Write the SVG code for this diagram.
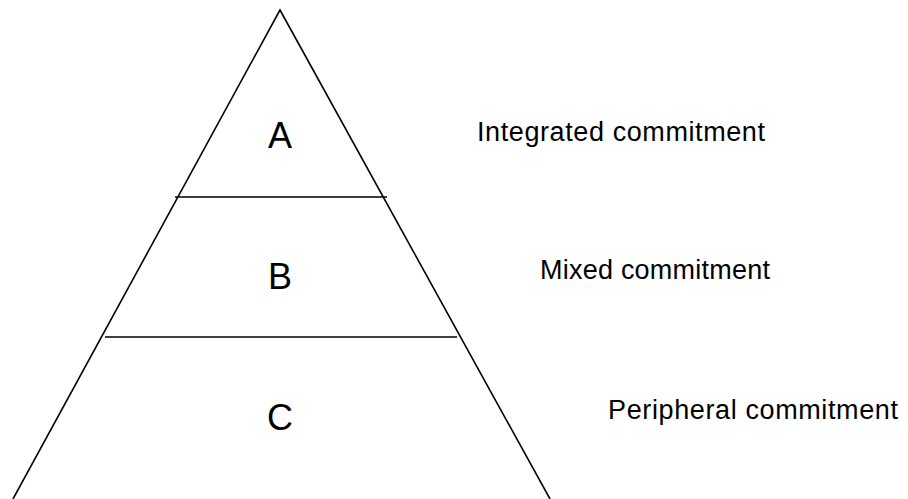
<svg xmlns="http://www.w3.org/2000/svg" width="908" height="499" viewBox="0 0 908 499">
<style>
.ln{stroke:#000;stroke-width:1.6;fill:none}
.big{font-family:"Liberation Sans",Arial,sans-serif;font-size:36px;fill:#000;text-anchor:middle}
.lbl{font-family:"Liberation Sans",Arial,sans-serif;font-size:27px;fill:#000}
</style>
<rect width="908" height="499" fill="#fff"/>
<g id="connectors">
<polyline class="ln" points="13,499 280,10 550,499"/>
<line class="ln" x1="175" y1="197" x2="387" y2="197"/>
<line class="ln" x1="105" y1="337" x2="457" y2="337"/>
</g>
<g id="nodeA"><text class="big" x="280" y="148">A</text></g>
<g id="nodeB"><text class="big" x="280" y="289">B</text></g>
<g id="nodeC"><text class="big" x="280" y="430">C</text></g>
<g id="labelA"><text class="lbl" x="477" y="141" textLength="288" lengthAdjust="spacing">Integrated commitment</text></g>
<g id="labelB"><text class="lbl" x="540" y="279" textLength="230" lengthAdjust="spacing">Mixed commitment</text></g>
<g id="labelC"><text class="lbl" x="608" y="419" textLength="290" lengthAdjust="spacing">Peripheral commitment</text></g>
</svg>
